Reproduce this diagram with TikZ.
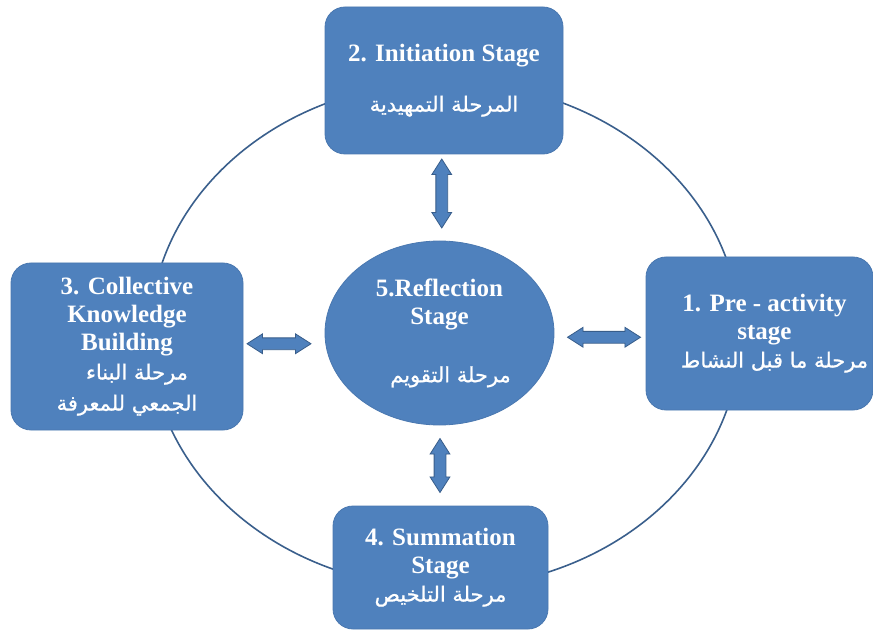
\documentclass[tikz,border=0pt]{standalone}
\usepackage{fontspec}
\setmainfont{Liberation Serif}
\newfontfamily\arabicfont[Script=Arabic,FakeBold=0.8]{DejaVu Sans}
\TeXXeTstate=1
\usetikzlibrary{shapes.geometric,shapes.arrows,calc}
\definecolor{stagefill}{HTML}{4F81BD}
\definecolor{stageedge}{HTML}{4A78B0}
\definecolor{ringline}{HTML}{3A5F8C}
\definecolor{arrowedge}{HTML}{385D8A}
\newcommand{\ar}[1]{{\arabicfont\mdseries\fontsize{21}{26}\selectfont\beginR #1\endR}}
\begin{document}
\begin{tikzpicture}[x=1pt,y=-1pt,
  stagebox/.style={rectangle, rounded corners=20pt, fill=stagefill, draw=stageedge,
    line width=0.8pt, text=white, align=center, inner sep=0pt,
    font=\fontsize{25}{28}\bfseries\selectfont},
  hub/.style={ellipse, fill=stagefill, draw=stageedge, line width=0.8pt,
    text=white, align=center, inner sep=0pt,
    minimum width=229pt, minimum height=184pt,
    font=\fontsize{25}{28}\bfseries\selectfont},
  linkarrow/.style={double arrow, fill=stagefill, draw=arrowedge, line width=0.8pt,
    inner sep=5.5pt, minimum width=0pt, double arrow head extend=4pt,
    double arrow tip angle=65},
  ring/.style={draw=ringline, line width=1.6pt}]
\useasboundingbox (0,0) rectangle (873,631);

% outer cycle behind the stages
\draw[ring] (445,335) ellipse [x radius=295pt, y radius=253pt];

% the five stages
\node[stagebox, minimum width=238pt, minimum height=147pt] (s2) at (444,80.5)
  {2. Initiation Stage\\[22pt]\ar{المرحلة التمهيدية}};
\node[stagebox, minimum width=227pt, minimum height=153pt] (s1) at (759.5,333.5)
  {\hspace*{10pt}1. Pre - activity\\\hspace*{10pt}stage\\\hspace*{30pt}\ar{مرحلة ما قبل النشاط}};
\node[stagebox, minimum width=232pt, minimum height=167pt] (s3) at (127,346.5)
  {3. Collective\\Knowledge\\Building\\[1pt]\hspace*{20pt}\ar{مرحلة البناء}\\[3pt]\ar{الجمعي للمعرفة}};
\node[stagebox, minimum width=215pt, minimum height=123pt] (s4) at (440.5,567.5)
  {4. Summation\\Stage\\\ar{مرحلة التلخيص}};
\node[hub] (s5) at (439.5,333)
  {5.Reflection\\Stage\\[30pt]\hspace*{22pt}\ar{مرحلة التقويم}};

% two-way links between the hub and each stage
\node[linkarrow, minimum height=69pt, rotate=90] (l2) at ($(s2.south)!0.5!(s5.north)+(0,-4)$) {};
\node[linkarrow, minimum height=54pt, rotate=90] (l4) at ($(s5.south)!0.5!(s4.north)$) {};
\node[linkarrow, minimum height=64pt] (l3) at ($(s3.east)!0.5!(s5.west)+(-5,4)$) {};
\node[linkarrow, minimum height=73pt] (l1) at ($(s5.east)!0.5!(s1.west)+(4,4)$) {};
\end{tikzpicture}
\end{document}
